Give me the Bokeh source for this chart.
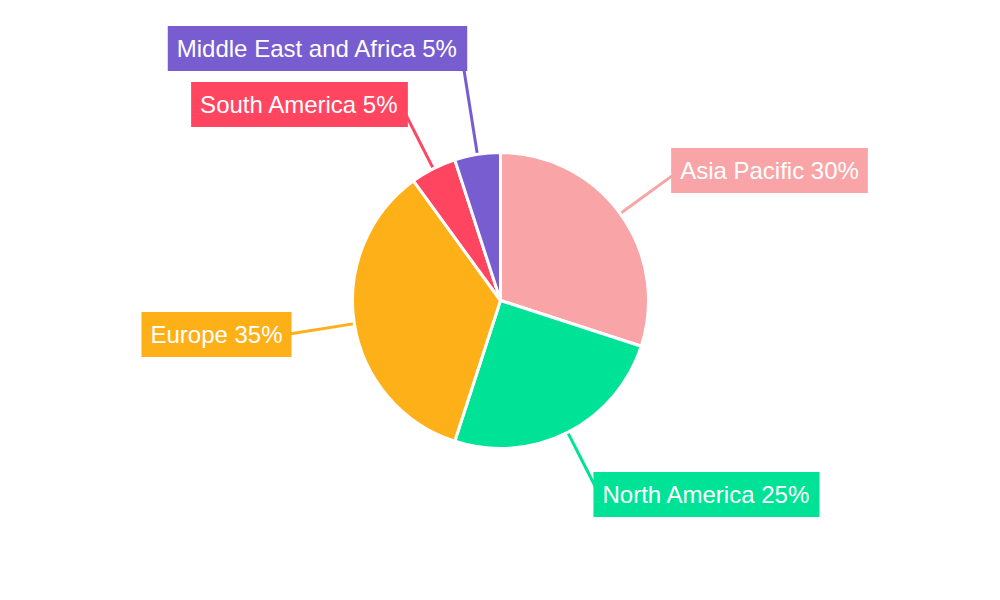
import math
from bokeh.plotting import figure
from bokeh.models import Range1d, Label
from bokeh.embed import file_html
from bokeh.resources import INLINE

# ---- data ----
regions = ["Asia Pacific", "North America", "Europe", "South America", "Middle East and Africa"]
shares = [30, 25, 35, 5, 5]
colors = ["#F9A5A7", "#00E396", "#FEB019", "#FF4560", "#775DD0"]

# ---- layout ----
CX, CY, R = 500, 300, 148          # pie centre / radius (data units = px)
leader_len = [60, 59, 62, 56, 87]  # radial leader lengths
label_pos = [(769, 430), (706, 106), (216, 266), (299, 496), (317, 552)]

p = figure(width=984, height=584, x_range=Range1d(0, 984), y_range=Range1d(16, 600),
           output_backend="svg", toolbar_location=None, min_border=0)
p.axis.visible = False
p.grid.visible = False
p.outline_line_color = None
p.background_fill_color = "white"

total = sum(shares)
start = math.pi / 2
angles = []
for s in shares:
    end = start - s / total * 2 * math.pi
    angles.append((start, end))
    start = end

# leader lines (below wedges)
for (a0, a1), L, c in zip(angles, leader_len, colors):
    mid = (a0 + a1) / 2
    x0 = CX + (R - 5) * math.cos(mid)
    y0 = CY + (R - 5) * math.sin(mid)
    x1 = CX + (R + L + 4) * math.cos(mid)
    y1 = CY + (R + L + 4) * math.sin(mid)
    p.line([x0, x1], [y0, y1], line_color=c, line_width=3)

for (a0, a1), c in zip(angles, colors):
    p.wedge(x=CX, y=CY, radius=R, start_angle=a1, end_angle=a0,
            fill_color=c, line_color="white", line_width=3)

for name, s, c, (lx, ly) in zip(regions, shares, colors, label_pos):
    p.add_layout(Label(x=lx, y=ly, text=f"{name} {s}%", text_align="center",
                       text_baseline="middle", text_color="white",
                       text_font="Liberation Sans", text_font_size="24px",
                       background_fill_color=c, background_fill_alpha=1.0,
                       padding=dict(left=9, right=9, top=9, bottom=9)))

open("out.html", "w").write(file_html(p, INLINE))
